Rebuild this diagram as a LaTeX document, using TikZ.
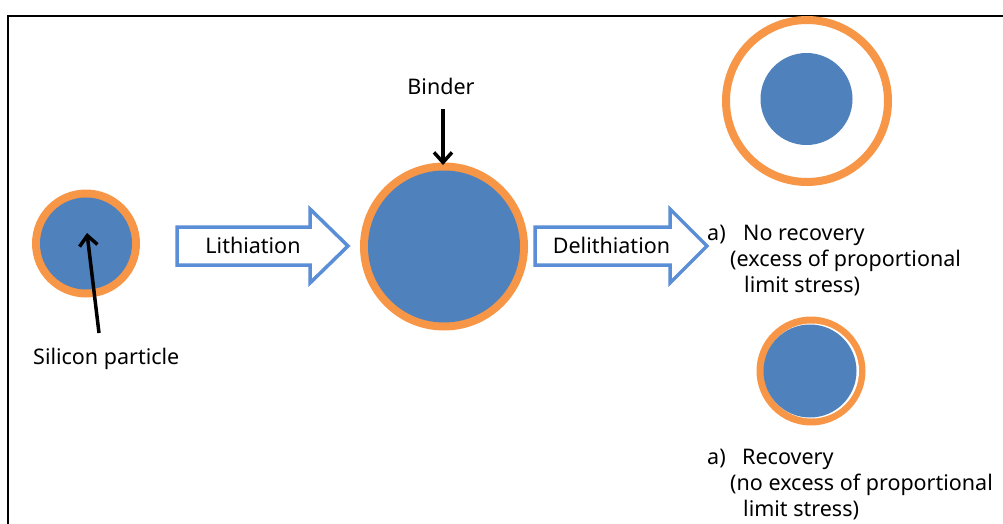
\documentclass[tikz,border=0pt]{standalone}
\usepackage{fontspec}
\setmainfont{Noto Sans}
\usetikzlibrary{arrows.meta}

\definecolor{sibl}{HTML}{4F81BD}
\definecolor{bindor}{HTML}{F79646}
\definecolor{arrbl}{HTML}{5A8ED6}

\tikzset{
  lbl/.style={inner sep=0pt, font=\fontsize{21.5}{26}\selectfont, text=black},
  ptr/.style={line width=3.5pt, -{Straight Barb[length=10pt,width=18pt]}},
  blockarr/.style={draw=arrbl, line width=3.5pt, fill=white, line join=miter},
}

\begin{document}
\begin{tikzpicture}[x=1pt,y=-1pt]
  \useasboundingbox (0,0) rectangle (1003,524);

  % frame (cut off at right and bottom)
  \draw[line width=2.5pt] (8,530) -- (8,16) -- (1010,16);

  % silicon particle before lithiation
  \fill[bindor] (86,243.5) circle (54);
  \fill[sibl] (86,243.5) circle (46);
  \coordinate (small) at (87,233);
  \node[lbl, anchor=base west] (silicon) at (33,364) {Silicon particle};
  \coordinate (siltail) at (99,333);
  \draw[ptr] (siltail) -- (small);

  % lithiation arrow
  \draw[blockarr] (177,227) -- (310,227) -- (310,209) -- (348,246)
    -- (310,283) -- (310,265) -- (177,265) -- cycle;
  \node[lbl] (lith) at (253,245) {Lithiation};

  % lithiated particle
  \fill[bindor] (444,246.5) circle (84);
  \fill[sibl] (444,246.5) circle (76);
  \coordinate (big) at (443,165);
  \node[lbl, anchor=base] (binder) at (441,95) {Binder};
  \coordinate (bindtail) at (443,109);
  \draw[ptr] (bindtail) -- (big);

  % delithiation arrow
  \draw[blockarr] (535,227) -- (670,227) -- (670,209) -- (707,246)
    -- (670,283) -- (670,265) -- (535,265) -- cycle;
  \node[lbl] (delith) at (611.5,245) {Delithiation};

  % a) no recovery
  \draw[bindor, line width=8pt, fill=white] (807,101) circle (81);
  \fill[sibl] (806.5,99) circle (46);
  \node[lbl, anchor=base west] (noreca) at (707,240) {a)};
  \node[lbl, anchor=base west] (norecb) at (743,240) {No recovery};
  \node[lbl, anchor=base west] (norecc) at (730,266) {(excess of proportional};
  \node[lbl, anchor=base west] (norecd) at (744,292) {limit stress)};

  % b) recovery
  \fill[bindor] (811,371) circle (54.5);
  \fill[white] (811.5,371) circle (47.5);
  \fill[sibl] (810,371) circle (46.5);
  \node[lbl, anchor=base west] (reca) at (707,464) {a)};
  \node[lbl, anchor=base west] (recb) at (742,464) {Recovery};
  \node[lbl, anchor=base west] (recc) at (730,490) {(no excess of proportional};
  \node[lbl, anchor=base west] (recd) at (743,516) {limit stress)};
\end{tikzpicture}
\end{document}
